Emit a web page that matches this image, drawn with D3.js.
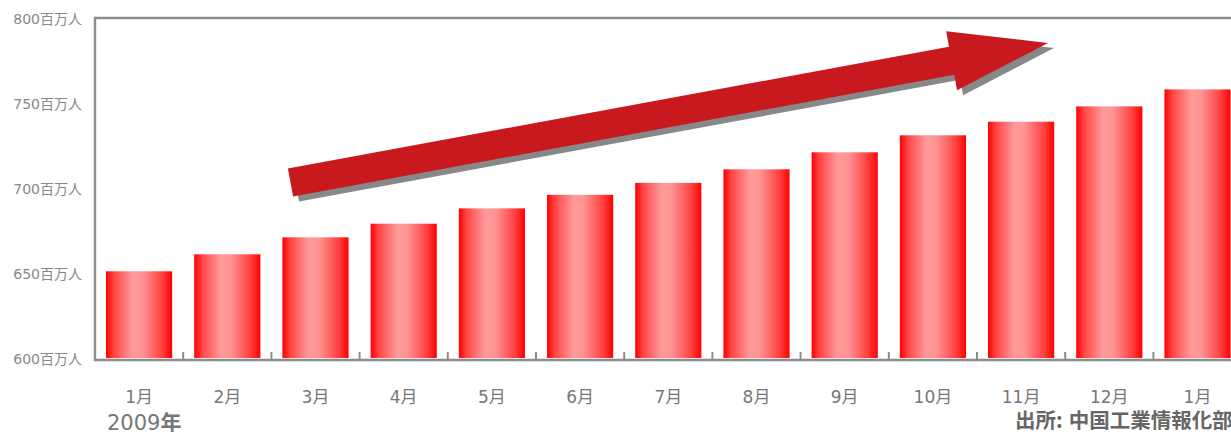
<!DOCTYPE html>
<html>
<head>
<meta charset="utf-8">
<script src="https://cdn.jsdelivr.net/npm/d3@7"></script>
<style>
  body { margin: 0; background: #fff; }
  svg { display: block; font-family: "DejaVu Sans", "Noto Sans CJK JP", sans-serif; }
</style>
</head>
<body>
<svg id="chart" width="1231" height="432"></svg>
<script>
var months = ["1月", "2月", "3月", "4月", "5月", "6月", "7月", "8月", "9月", "10月", "11月", "12月", "1月 "];
var users = [651, 661, 671, 679, 688, 696, 703, 711, 721, 731, 739, 748, 758];
var yTicks = [600, 650, 700, 750, 800];
var yearLabel = "2009";
var sourceHead = "出所:";
var sourceBody = "中国工業情報化部";

function drawChart() {
    var svg = d3.select("#chart"),
        plotLeft = 95,
        plotTop = 18,
        plotBottom = 358;

    var x = d3.scaleBand()
        .domain(months)
        .range([plotLeft, plotLeft + 13 * 88.2])
        .paddingInner(0.25)
        .paddingOuter(0.125);

    var y = d3.scaleLinear()
        .domain([600, 800])
        .range([plotBottom, plotTop]);

    // bar gradient: red edges, pale pink centre
    var grad = svg.append("defs").append("linearGradient")
        .attr("id", "barGrad")
        .attr("x1", "0%").attr("x2", "100%")
        .attr("y1", "0%").attr("y2", "0%");
    grad.append("stop").attr("offset", "0%").attr("stop-color", "#ff0000");
    grad.append("stop").attr("offset", "12%").attr("stop-color", "#ff4545");
    grad.append("stop").attr("offset", "40%").attr("stop-color", "#ff9a9a");
    grad.append("stop").attr("offset", "55%").attr("stop-color", "#ff9494");
    grad.append("stop").attr("offset", "85%").attr("stop-color", "#ff4040");
    grad.append("stop").attr("offset", "100%").attr("stop-color", "#ff0000");

    svg.append("g")
        .selectAll("rect")
        .data(users)
        .enter().append("rect")
        .attr("x", function (d, i) { return x(months[i]); })
        .attr("y", function (d) { return y(d); })
        .attr("width", x.bandwidth())
        .attr("height", function (d) { return y(600) - y(d); })
        .attr("fill", "url(#barGrad)");

    // frame: top line, left line, bottom line
    var axisColor = "#8c8c8c";
    svg.append("path")
        .attr("d", "M1231," + plotTop + "H" + plotLeft + "V" + (plotBottom + 2) + "H1231")
        .attr("fill", "none")
        .attr("stroke", axisColor)
        .attr("stroke-width", 2.4);

    // small ticks between categories
    var gap = x.step() * x.paddingInner() / 2;
    svg.append("g")
        .selectAll("line")
        .data(months.slice(1))
        .enter().append("line")
        .attr("x1", function (d) { return x(d) - gap; })
        .attr("x2", function (d) { return x(d) - gap; })
        .attr("y1", plotBottom - 6)
        .attr("y2", plotBottom + 2)
        .attr("stroke", axisColor)
        .attr("stroke-width", 2);

    // y labels
    svg.append("g")
        .selectAll("text")
        .data(yTicks)
        .enter().append("text")
        .attr("x", 82)
        .attr("y", function (d) { return y(d) + 1; })
        .attr("dy", "0.35em")
        .attr("text-anchor", "end")
        .attr("fill", "#888")
        .attr("font-size", 14)
        .text(function (d) { return d + "百万人"; });

    // month labels
    svg.append("g")
        .selectAll("text")
        .data(months)
        .enter().append("text")
        .attr("x", function (d) { return x(d) + x.bandwidth() / 2; })
        .attr("y", 397)
        .attr("dy", "0.35em")
        .attr("text-anchor", "middle")
        .attr("fill", "#777")
        .attr("font-size", 17)
        .text(function (d) { return d.trim(); });

    var yr = svg.append("text")
        .attr("x", 107)
        .attr("y", 430)
        .attr("fill", "#777")
        .attr("font-size", 21);
    yr.append("tspan").text(yearLabel);
    yr.append("tspan").attr("font-weight", "bold").text("年");

    var src = svg.append("text")
        .attr("x", 1015)
        .attr("y", 428)
        .attr("fill", "#666")
        .attr("font-size", 20.5)
        .attr("font-weight", "bold")
        .attr("font-family", "Noto Sans CJK JP");
    src.append("tspan").text(sourceHead);
    src.append("tspan").attr("dx", 6).text(sourceBody);

    // trend arrow (decoration) in a local frame: tail at origin, pointing along +x
    var tail = [290.5, 182.5], tip = [1048, 43];
    var len = Math.hypot(tip[0] - tail[0], tip[1] - tail[1]),
        ang = Math.atan2(tip[1] - tail[1], tip[0] - tail[0]) * 180 / Math.PI,
        hw = 14.3, headW = 30, headL = 98;
    var arrowPts = [[0, -hw], [len - headL, -hw], [len - headL, -headW], [len, 0],
        [len - headL, headW], [len - headL, hw], [0, hw]];
    var line = d3.line();

    svg.append("path")
        .attr("d", line(arrowPts) + "Z")
        .attr("fill", "#888")
        .attr("transform", "translate(" + (tail[0] + 6) + "," + (tail[1] + 5) + ") rotate(" + ang + ")");
    svg.append("path")
        .attr("d", line(arrowPts) + "Z")
        .attr("fill", "#c8191e")
        .attr("transform", "translate(" + tail[0] + "," + tail[1] + ") rotate(" + ang + ")");
}

drawChart();
</script>
</body>
</html>
